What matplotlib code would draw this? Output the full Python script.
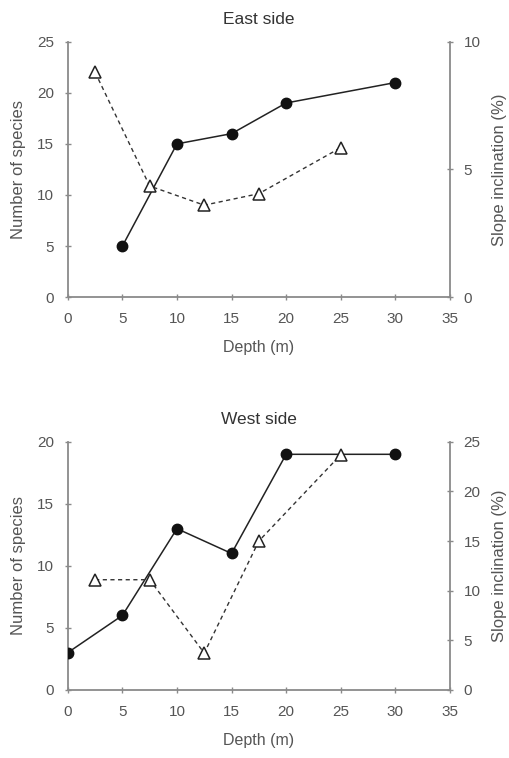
import matplotlib
matplotlib.use("Agg")
import matplotlib.pyplot as plt

plt.rcParams['font.family'] = ['Liberation Sans', 'DejaVu Sans']

# East side
east_depth_species = [5, 10, 15, 20, 30]
east_species = [5, 15, 16, 19, 21]
east_depth_slope = [2.5, 7.5, 12.5, 17.5, 25]
east_slope = [8.8, 4.35, 3.6, 4.05, 5.85]

# West side
west_depth_species = [0, 5, 10, 15, 20, 30]
west_species = [3, 6, 13, 11, 19, 19]
west_depth_slope = [2.5, 7.5, 12.5, 17.5, 25]
west_slope = [11.1, 11.1, 3.7, 15.0, 23.7]

x_ticks = [0, 5, 10, 15, 20, 25, 30, 35]

TXT = '#555555'
AX = '#8a8a8a'

fig = plt.figure(figsize=(5.10, 7.58), dpi=100)

def make(rect, title, xs, ys, xt, yt, ylim, ystep, y2lim, y2step):
    ax = fig.add_axes(rect)
    ax2 = ax.twinx()
    ax.plot(xs, ys, '-', color='#222222', lw=1.1, marker='o', ms=7.5,
            mfc='#111111', mec='#111111', zorder=3)
    ax2.plot(xt, yt, '--', color='#333333', lw=1.0, dashes=(3, 2.5), marker='^', ms=8.5,
             mfc='white', mec='#222222', mew=1.1, zorder=3)
    ax.set_xlim(0, 35)
    ax.set_xticks(x_ticks)
    ax.set_ylim(*ylim)
    ax.set_yticks(range(ylim[0], ylim[1] + 1, ystep))
    ax2.set_ylim(*y2lim)
    ax2.set_yticks(range(y2lim[0], y2lim[1] + 1, y2step))
    for a in (ax, ax2):
        a.spines['top'].set_visible(False)
        for s in ('left', 'right', 'bottom'):
            a.spines[s].set_color(AX)
            a.spines[s].set_linewidth(1.3)
        a.tick_params(direction='inout', length=4, width=1, color=AX,
                      labelcolor=TXT, labelsize=11, pad=8)
    ax.spines['right'].set_visible(False)
    ax2.spines['left'].set_visible(False)
    ax2.spines['bottom'].set_visible(False)
    ax.tick_params(axis='x', pad=9)
    ax.set_xlabel('Depth (m)', color=TXT, fontsize=11.5, labelpad=10)
    ax.set_ylabel('Number of species', color=TXT, fontsize=12, labelpad=8)
    ax2.set_ylabel('Slope inclination (%)', color=TXT, fontsize=12, labelpad=8)
    ax.set_title(title, color='#333333', fontsize=12.5, pad=13)
    ax.patch.set_visible(False)
    return ax, ax2

make([0.133, 0.608, 0.749, 0.337], 'East side',
     east_depth_species, east_species, east_depth_slope, east_slope,
     (0, 25), 5, (0, 10), 5)
make([0.133, 0.090, 0.749, 0.327], 'West side',
     west_depth_species, west_species, west_depth_slope, west_slope,
     (0, 20), 5, (0, 25), 5)

fig.savefig('out.png', dpi=100, facecolor='white')
